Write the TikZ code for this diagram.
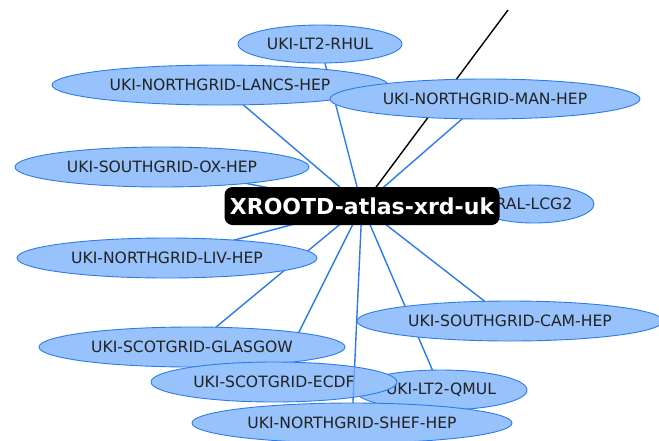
\documentclass[tikz,border=0pt]{standalone}
\usepackage{fontspec}
\setmainfont{DejaVu Sans}
\usetikzlibrary{shapes.geometric}
\pgfdeclarelayer{bg}
\pgfsetlayers{bg,main}
\definecolor{nodefill}{HTML}{97C2FC}
\definecolor{nodeborder}{HTML}{2B7CE9}
\definecolor{labeltext}{HTML}{222222}
\tikzset{
  site/.style={ellipse, draw=nodeborder, fill=nodefill, line width=0.9pt, inner sep=0pt,
    text=labeltext, font=\fontsize{15.6}{18}\selectfont},
  hub/.style={rectangle, rounded corners=8pt, fill=black, text=white, inner sep=0pt,
    minimum width=275pt, minimum height=38pt, font=\fontsize{22}{26}\selectfont\bfseries},
  link/.style={draw=nodeborder, line width=1.4pt},
  blacklink/.style={draw=black, line width=1.4pt}
}
\begin{document}
\begin{tikzpicture}[x=1pt,y=-1pt]
\useasboundingbox (0,0) rectangle (659,440);
\clip (0,0) rectangle (659,440);
\coordinate (far) at (508,10);
\coordinate (hubc) at (362,206);
\coordinate (shefc) at (352,423);
\node[site, minimum width=164pt, minimum height=38pt] (rhul) at (320,44) {UKI-LT2-RHUL};
\node[site, minimum width=336pt, minimum height=40pt] (lancs) at (220,85) {UKI-NORTHGRID-LANCS-HEP};
\node[site, minimum width=310pt, minimum height=40pt] (man) at (485,99) {UKI-NORTHGRID-MAN-HEP};
\node[site, minimum width=294pt, minimum height=40pt] (ox) at (162,167) {UKI-SOUTHGRID-OX-HEP};
\node[site, minimum width=120pt, minimum height=38pt] (ral) at (534,204) {RAL-LCG2};
\node[site, minimum width=300pt, minimum height=40pt] (liv) at (167,258) {UKI-NORTHGRID-LIV-HEP};
\node[site, minimum width=306pt, minimum height=40pt] (glas) at (192,347) {UKI-SCOTGRID-GLASGOW};
\node[site, minimum width=172pt, minimum height=40pt] (qmul) at (441,390) {UKI-LT2-QMUL};
\node[site, minimum width=246pt, minimum height=40pt] (ecdf) at (274,382) {UKI-SCOTGRID-ECDF};
\begin{scope}
  \path[clip] (ecdf.center) ellipse [x radius=123pt, y radius=20pt];
  \draw[link, opacity=0.45] (hubc) -- (shefc);
\end{scope}
\node[site, minimum width=320pt, minimum height=40pt] (shef) at (shefc) {UKI-NORTHGRID-SHEF-HEP};
\node[site, minimum width=306pt, minimum height=40pt] (cam) at (510,321) {UKI-SOUTHGRID-CAM-HEP};
\node[hub] (hub) at (hubc) {XROOTD-atlas-xrd-uk};
\begin{pgfonlayer}{bg}
\fill[white] (0,0) rectangle (659,440);
\draw[blacklink] (hub.center) -- (far);
\foreach \n in {rhul,lancs,man,ox,ral,liv,glas,qmul,ecdf,shef,cam}
  \draw[link] (hub.center) -- (\n.center);
\end{pgfonlayer}
\end{tikzpicture}
\end{document}
